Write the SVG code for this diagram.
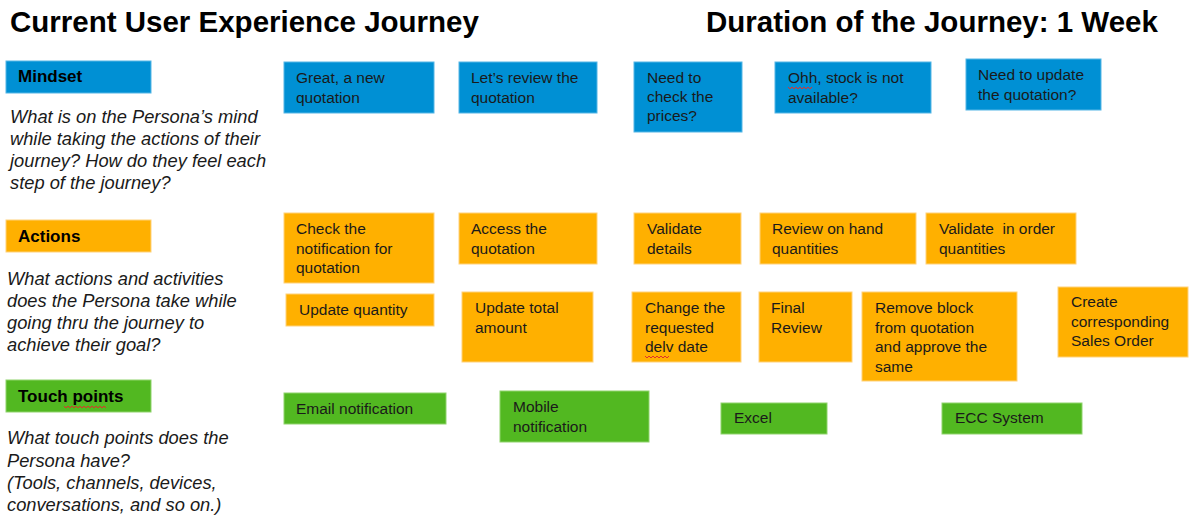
<svg xmlns="http://www.w3.org/2000/svg" width="1190" height="516" viewBox="0 0 1190 516">
<style>
.title{font-family:"Liberation Sans",Arial,sans-serif;font-size:29.5px;font-weight:bold;fill:#000}
.lbl{font-family:"Liberation Sans",Arial,sans-serif;font-size:17px;font-weight:bold;fill:#000}
.q{font-family:"Liberation Sans",Arial,sans-serif;font-size:18.3px;font-style:italic;fill:#1a1a1a}
.t{font-family:"Liberation Sans",Arial,sans-serif;font-size:15.5px;fill:#1a1a1a}
.blue{fill:#0090d4;stroke:#55b6e6;stroke-width:1}
.orange{fill:#ffb000;stroke:#ffd27a;stroke-width:1}
.green{fill:#52b821;stroke:#8fd36c;stroke-width:1}
.sq{fill:none;stroke:#e0302a;stroke-width:1}
</style>
<rect width="1190" height="516" fill="#fff"/>
<g id="titles">
<text class="title" x="10" y="32">Current User Experience Journey</text>
<text class="title" x="706" y="32">Duration of the Journey: 1 Week</text>
</g>
<g id="mindset-label">
<rect class="blue" x="6" y="61" width="145" height="32"/>
<text class="lbl" x="18" y="82">Mindset</text>
<text class="q" x="10" y="123">What is on the Persona’s mind</text>
<text class="q" x="10" y="145">while taking the actions of their</text>
<text class="q" x="10" y="167">journey? How do they feel each</text>
<text class="q" x="10" y="189">step of the journey?</text>
</g>
<g id="actions-label">
<rect class="orange" x="6" y="220" width="145" height="32"/>
<text class="lbl" x="18" y="242">Actions</text>
<text class="q" x="7" y="285">What actions and activities</text>
<text class="q" x="7" y="307">does the Persona take while</text>
<text class="q" x="7" y="329">going thru the journey to</text>
<text class="q" x="7" y="351">achieve their goal?</text>
</g>
<g id="touch-label">
<rect class="green" x="6" y="380" width="145" height="32"/>
<text class="lbl" x="18" y="402">Touch points</text>
<path class="sq" d="M64 406 l2 2 l2 -2 l2 2 l2 -2 l2 2 l2 -2 l2 2 l2 -2 l2 2 l2 -2 l2 2 l2 -2 l2 2 l2 -2 l2 2 l2 -2 l2 2 l2 -2 l2 2 l2 -2 l2 2"/>
<text class="q" x="7" y="444">What touch points does the</text>
<text class="q" x="7" y="467">Persona have?</text>
<text class="q" x="7" y="489">(Tools, channels, devices,</text>
<text class="q" x="7" y="511">conversations, and so on.)</text>
</g>
<g id="m1"><rect class="blue" x="284" y="62" width="150" height="51"/><text class="t" x="296" y="83">Great, a new</text><text class="t" x="296" y="103">quotation</text></g>
<g id="m2"><rect class="blue" x="459" y="62" width="138" height="51"/><text class="t" x="471" y="83">Let’s review the</text><text class="t" x="471" y="103">quotation</text></g>
<g id="m3"><rect class="blue" x="634" y="62" width="108" height="70"/><text class="t" x="647" y="83">Need to</text><text class="t" x="647" y="102">check the</text><text class="t" x="647" y="121">prices?</text></g>
<g id="m4"><rect class="blue" x="775" y="62" width="156" height="51"/><text class="t" x="788" y="83">Ohh, stock is not</text><path class="sq" d="M788 87 l2 2 l2 -2 l2 2 l2 -2 l2 2 l2 -2 l2 2 l2 -2 l2 2 l2 -2 l2 2 l2 -2"/><text class="t" x="788" y="103">available?</text></g>
<g id="m5"><rect class="blue" x="966" y="59" width="135" height="51"/><text class="t" x="978" y="80">Need to update</text><text class="t" x="978" y="100">the quotation?</text></g>
<g id="a1"><rect class="orange" x="284" y="213" width="150" height="70"/><text class="t" x="296" y="234">Check the</text><text class="t" x="296" y="254">notification for</text><text class="t" x="296" y="273">quotation</text></g>
<g id="a2"><rect class="orange" x="459" y="213" width="138" height="51"/><text class="t" x="471" y="234">Access the</text><text class="t" x="471" y="254">quotation</text></g>
<g id="a3"><rect class="orange" x="634" y="213" width="107" height="51"/><text class="t" x="647" y="234">Validate</text><text class="t" x="647" y="254">details</text></g>
<g id="a4"><rect class="orange" x="760" y="213" width="156" height="51"/><text class="t" x="772" y="234">Review on hand</text><text class="t" x="772" y="254">quantities</text></g>
<g id="a5"><rect class="orange" x="926" y="213" width="150" height="51"/><text class="t" x="939" y="234" xml:space="preserve">Validate  in order</text><text class="t" x="939" y="254">quantities</text></g>
<g id="a6"><rect class="orange" x="286" y="294" width="148" height="32"/><text class="t" x="299" y="315">Update quantity</text></g>
<g id="a7"><rect class="orange" x="462" y="292" width="131" height="70"/><text class="t" x="475" y="313">Update total</text><text class="t" x="475" y="333">amount</text></g>
<g id="a8"><rect class="orange" x="632" y="292" width="109" height="70"/><text class="t" x="645" y="313">Change the</text><text class="t" x="645" y="333">requested</text><text class="t" x="645" y="352">delv date</text><path class="sq" d="M645 356 l2 2 l2 -2 l2 2 l2 -2 l2 2 l2 -2 l2 2 l2 -2 l2 2 l2 -2 l2 2 l2 -2"/></g>
<g id="a9"><rect class="orange" x="759" y="292" width="93" height="70"/><text class="t" x="771" y="313">Final</text><text class="t" x="771" y="333">Review</text></g>
<g id="a10"><rect class="orange" x="862" y="292" width="155" height="89"/><text class="t" x="875" y="313">Remove block</text><text class="t" x="875" y="333">from quotation</text><text class="t" x="875" y="352">and approve the</text><text class="t" x="875" y="372">same</text></g>
<g id="a11"><rect class="orange" x="1058" y="287" width="130" height="70"/><text class="t" x="1071" y="307">Create</text><text class="t" x="1071" y="327">corresponding</text><text class="t" x="1071" y="346">Sales Order</text></g>
<g id="t1"><rect class="green" x="284" y="393" width="162" height="31"/><text class="t" x="296" y="414">Email notification</text></g>
<g id="t2"><rect class="green" x="500" y="391" width="149" height="51"/><text class="t" x="513" y="412">Mobile</text><text class="t" x="513" y="432">notification</text></g>
<g id="t3"><rect class="green" x="721" y="403" width="106" height="31"/><text class="t" x="734" y="423">Excel</text></g>
<g id="t4"><rect class="green" x="942" y="403" width="140" height="31"/><text class="t" x="955" y="423">ECC System</text></g>
<g id="connectors"/>
</svg>
